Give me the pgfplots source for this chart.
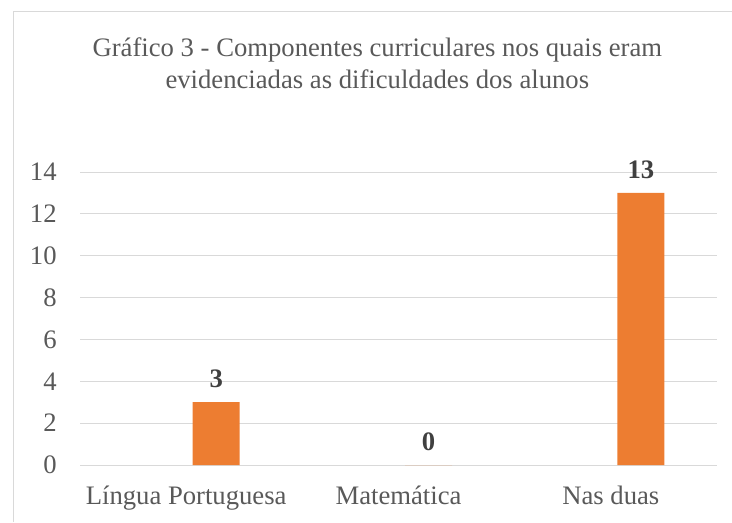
\documentclass[border=0pt]{standalone}
\usepackage{pgfplots}
\pgfplotsset{compat=1.18}
\usepackage{fontspec}
\setmainfont{Liberation Serif}
\definecolor{barorange}{HTML}{ED7D31}
\definecolor{txtgray}{HTML}{595959}
\definecolor{lblgray}{HTML}{404040}
\definecolor{gridgray}{HTML}{D9D9D9}
\begin{document}
\begin{tikzpicture}
\useasboundingbox (0,0) rectangle (549pt,391.5pt);
% chart frame (right and bottom edges cut off in the reference)
\draw[gridgray, line width=0.75pt] (9.75pt,0) -- (9.75pt,382.5pt) -- (549pt,382.5pt);
\node[align=center, text=txtgray, font=\fontsize{20}{24}\selectfont] at (283pt,344pt)
  {Gráfico 3 - Componentes curriculares nos quais eram\\evidenciadas as dificuldades dos alunos};
\begin{axis}[
  at={(60pt,42.75pt)}, anchor=south west,
  scale only axis, width=477.75pt, height=219.75pt,
  xmin=-0.5, xmax=2.5, ymin=0, ymax=14,
  ytick distance=2,
  xtick={0,1,2},
  xticklabels={Língua Portuguesa, Matemática, Nas duas},
  ymajorgrids, grid style={gridgray, line width=0.75pt},
  axis line style={draw=none},
  major tick length=0pt,
  tick label style={text=txtgray, font=\fontsize{20}{24}\selectfont},
  yticklabel style={xshift=-14pt},
  xticklabel style={yshift=-12pt},
  /pgf/number format/assume math mode=true,
  ybar, bar width=35.25pt,
  clip=false,
]
\addplot[fill=barorange, draw=none, bar shift=22.5pt,
  nodes near coords,
  every node near coord/.append style={text=lblgray, font=\fontsize{20}{24}\bfseries, yshift=7pt}]
  coordinates {(0,3) (1,0) (2,13)};
\end{axis}
\end{tikzpicture}
\end{document}
